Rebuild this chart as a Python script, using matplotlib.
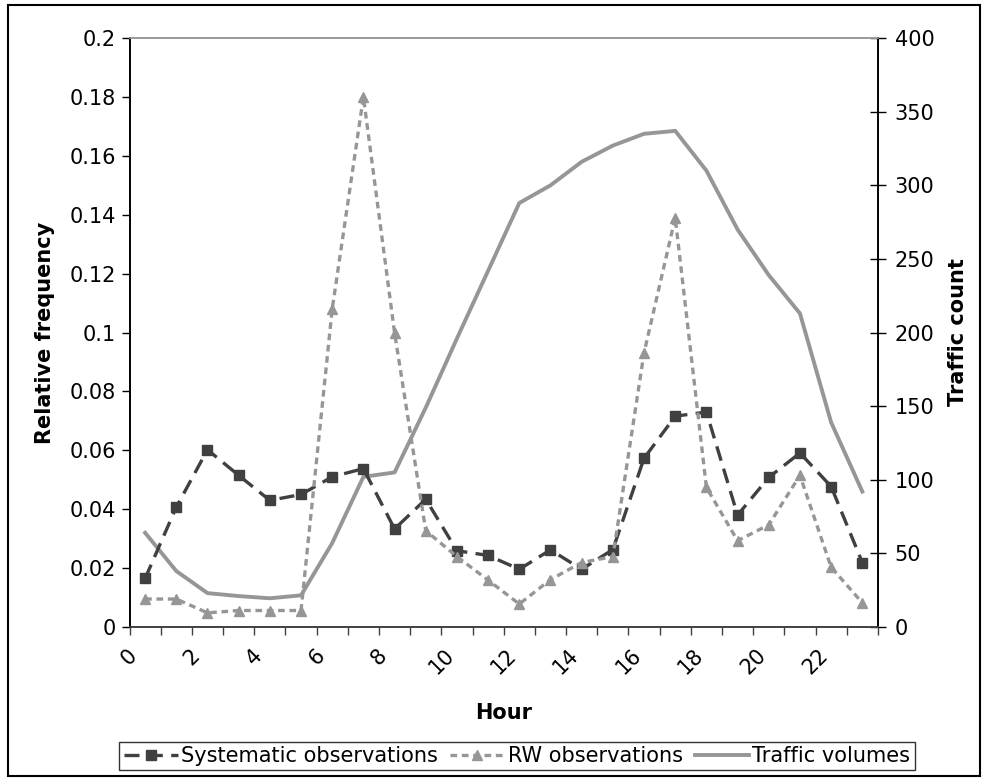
import numpy as np
import matplotlib
matplotlib.use("Agg")
import matplotlib.pyplot as plt
from matplotlib.patches import Rectangle

# hourly values (plotted at the middle of each hour)
hours = np.arange(24) + 0.5

systematic = [0.0165, 0.0407, 0.0602, 0.0515, 0.043, 0.045, 0.051, 0.0538,
              0.0333, 0.0434, 0.0259, 0.0243, 0.0196, 0.0262, 0.0196, 0.0263,
              0.0573, 0.0716, 0.073, 0.038, 0.0508, 0.0591, 0.0477, 0.0219]

rw = [0.0095, 0.0095, 0.0048, 0.0056, 0.0056, 0.0056, 0.108, 0.18,
      0.0999, 0.0327, 0.0239, 0.0159, 0.0078, 0.0161, 0.0219, 0.0239,
      0.0931, 0.139, 0.0474, 0.0293, 0.0347, 0.0515, 0.0203, 0.0082]

traffic = [64, 38, 23, 21, 19.5, 21.5, 57, 102, 105, 149, 196, 242,
           288, 300, 316, 327, 335, 337, 310, 270, 239, 213, 139, 92]

left_ticks = [0, 0.02, 0.04, 0.06, 0.08, 0.1, 0.12, 0.14, 0.16, 0.18, 0.2]
left_labels = ["0", "0.02", "0.04", "0.06", "0.08", "0.1", "0.12", "0.14", "0.16", "0.18", "0.2"]
right_ticks = [0, 50, 100, 150, 200, 250, 300, 350, 400]

plt.rcParams['font.family'] = 'DejaVu Sans'

fig = plt.figure(figsize=(9.82, 7.78), dpi=100)
ax = fig.add_axes([0.1319, 0.1941, 0.7621, 0.7569])
ax2 = ax.twinx()

dark = '#404040'
grey = '#969696'

l1, = ax.plot(hours, systematic, color=dark, lw=2.4, dashes=(4.5, 2.5),
              marker='s', ms=7, mec=dark, mfc=dark, label='Systematic observations')
l2, = ax.plot(hours, rw, color=grey, lw=2.4, dashes=(2, 1.4),
              marker='^', ms=7.5, mec=grey, mfc=grey, label='RW observations')
l3, = ax2.plot(hours, traffic, color=grey, lw=2.8, label='Traffic volumes')

# keep the frequency lines on top of the traffic line
ax.set_zorder(2)
ax.patch.set_visible(False)

ax.set_xlim(0, 24)
ax.set_ylim(0, 0.2)
ax2.set_ylim(0, 400)

ax.set_xticks(range(0, 25))
ax.set_xticklabels([str(h) if h % 2 == 0 and h < 24 else "" for h in range(0, 25)],
                   rotation=45, ha='center', va='top', fontsize=15)
ax.set_yticks(left_ticks)
ax.set_yticklabels(left_labels, fontsize=15)
ax2.set_yticks(right_ticks)
ax2.set_yticklabels([str(t) for t in right_ticks], fontsize=15)

ax.tick_params(axis='x', direction='out', length=6, width=1, color=dark, pad=7)
ax.tick_params(axis='y', direction='out', length=6, width=1, color='black', pad=4)
ax2.tick_params(axis='y', direction='inout', length=12, width=1, color='black', pad=6)

for a in (ax, ax2):
    a.spines['top'].set_color('#999999')
    a.spines['bottom'].set_color(dark)
    a.spines['left'].set_color('black')
    a.spines['right'].set_color('black')
    for s in a.spines.values():
        s.set_linewidth(1.2)

ax.set_xlabel("Hour", fontsize=15, fontweight='bold', labelpad=18)
ax.set_ylabel("Relative frequency", fontsize=15, fontweight='bold', labelpad=10)
ax2.set_ylabel("Traffic count", fontsize=15, fontweight='bold', labelpad=10)

leg = fig.legend(handles=[l1, l2, l3], loc='center', bbox_to_anchor=(0.5265, 0.028),
                 ncol=3, fontsize=15, frameon=True, fancybox=False,
                 edgecolor='black', handlelength=2.6, handletextpad=0.15,
                 columnspacing=0.6, borderpad=0.2, borderaxespad=0)
leg.get_frame().set_linewidth(1.0)

# outer chart border
fig.patches.append(Rectangle((0.008, 0.002), 0.99, 0.992, transform=fig.transFigure,
                             fill=False, edgecolor='black', lw=1.5))

fig.savefig("out.png", dpi=100)
